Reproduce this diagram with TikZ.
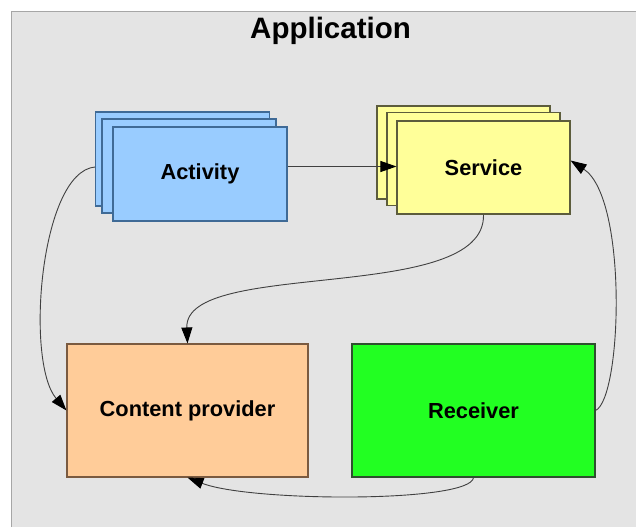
\documentclass[tikz,border=0pt]{standalone}
\usepackage{fontspec}
\setmainfont{Liberation Sans}
\usetikzlibrary{arrows.meta}

\definecolor{bgray}{HTML}{E4E4E4}
\definecolor{actfill}{HTML}{99CCFF}
\definecolor{actline}{HTML}{3F6A96}
\definecolor{svcfill}{HTML}{FFFF99}
\definecolor{svcline}{HTML}{5C5C3C}
\definecolor{cpfill}{HTML}{FFCC99}
\definecolor{cpline}{HTML}{7A5A40}
\definecolor{rcvfill}{HTML}{22FF22}
\definecolor{rcvline}{HTML}{2F4F2F}
\definecolor{wire}{HTML}{404040}

\tikzset{
  card/.style={draw, line width=1.1pt, inner sep=0pt, rectangle},
  actcard/.style={card, fill=actfill, draw=actline, minimum width=174pt, minimum height=94pt},
  svccard/.style={card, fill=svcfill, draw=svcline, minimum width=173pt, minimum height=93pt},
  bigbox/.style={card, minimum height=133pt, font=\bfseries\fontsize{21.8}{24}\selectfont},
  lbl/.style={font=\bfseries\fontsize{21.8}{24}\selectfont},
  link/.style={draw=wire, line width=0.9pt, -{Triangle[length=16pt,width=11pt,color=black]}}
}

\begin{document}
\begin{tikzpicture}[x=1pt,y=-1pt]
  \useasboundingbox (0,0) rectangle (636,527);
  \fill[white] (0,0) rectangle (636,527);
  \fill[bgray] (11,11) rectangle (636,527);
  \draw[gray!70, line width=0.8pt] (11,527) -- (11,11) -- (636,11);

  \node[font=\bfseries\fontsize{29.5}{32}\selectfont, anchor=base] (title) at (330.5,38) {Application};

  % Activity stack
  \node[actcard] (actback) at (182.5,159) {};
  \node[actcard] (actmid) at (189,166) {};
  \node[actcard, lbl] (act) at (200,174) {Activity};

  % Service stack
  \node[svccard] (svcback) at (463.5,152.5) {};
  \node[svccard] (svcmid) at (473.5,159) {};
  \node[svccard, lbl] (svc) at (483.5,167.5) {Service};

  % Lower components
  \node[bigbox, fill=cpfill, draw=cpline, minimum width=241pt] (cp) at (187.5,410.5) {Content provider};
  \node[bigbox, fill=rcvfill, draw=rcvline, minimum width=243pt] (rcv) at (473.5,410.5) {Receiver};

  % Connectors
  \draw[link] (act.east |- 0,166.5) -- (svc.west |- 0,166.5);
  \draw[link] (svc.south) .. controls (486,305) and (184,258) .. (cp.north);
  \draw[link] ([yshift=-8pt]actback.west) .. controls (40,172) and (25,362) .. (cp.west);
  \draw[link] (rcv.east) .. controls (622,398) and (628,198) .. ([yshift=7pt]svc.east);
  \draw[link] (rcv.south) .. controls (471,503) and (250,502) .. (cp.south);
\end{tikzpicture}
\end{document}
